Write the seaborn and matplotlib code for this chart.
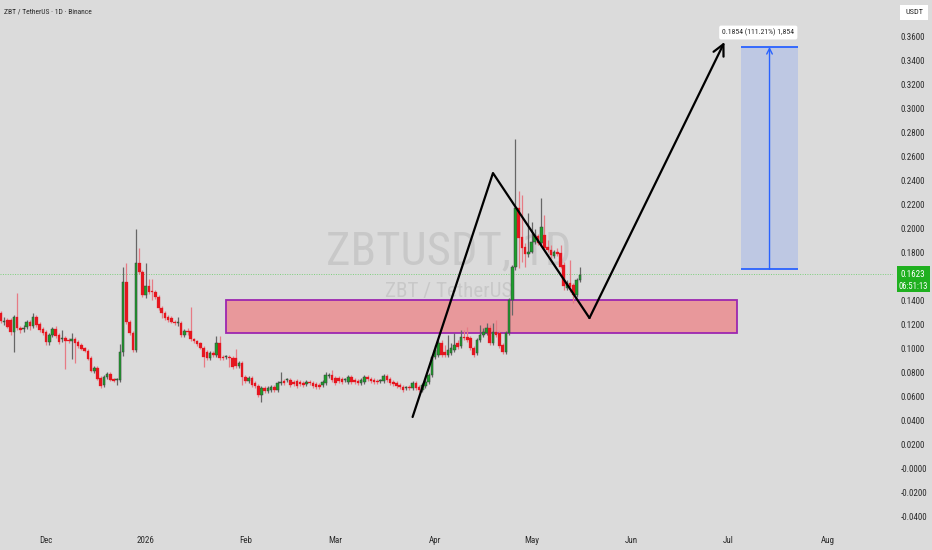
import numpy as np
import pandas as pd
import matplotlib
matplotlib.use("Agg")
import matplotlib.pyplot as plt
import matplotlib.dates as mdates
import matplotlib.transforms as mtransforms
from matplotlib.patches import Rectangle
from matplotlib import font_manager as fm
import seaborn as sns

# ---------------- data ----------------
start_date = "2025-11-17"
opens = [
    0.1300, 0.1225, 0.1241, 0.1241, 0.1141, 0.1266, 0.1175, 0.1166, 0.1183, 0.1225,
    0.1191, 0.1266, 0.1208, 0.1166, 0.1141, 0.1058, 0.1116, 0.1166, 0.1116, 0.1083,
    0.1091, 0.1075, 0.1066, 0.1083, 0.1058, 0.1033, 0.1008, 0.0983, 0.0925, 0.0816,
    0.0841, 0.0758, 0.0700, 0.0766, 0.0791, 0.0750, 0.0741, 0.0741, 0.0975, 0.1558,
    0.1225, 0.1133, 0.0991, 0.1716, 0.1641, 0.1450, 0.1525, 0.1483, 0.1475, 0.1433,
    0.1341, 0.1300, 0.1266, 0.1258, 0.1225, 0.1216, 0.1216, 0.1116, 0.1150, 0.1150,
    0.1083, 0.1066, 0.1050, 0.1008, 0.0975, 0.0925, 0.0966, 0.0950, 0.1050, 0.0933,
    0.0933, 0.0933, 0.0925, 0.0925, 0.0858, 0.0883, 0.0766, 0.0733, 0.0758, 0.0716,
    0.0691, 0.0616, 0.0675, 0.0650, 0.0658, 0.0683, 0.0658, 0.0716, 0.0733, 0.0741,
    0.0741, 0.0725, 0.0733, 0.0725, 0.0716, 0.0708, 0.0725, 0.0716, 0.0708, 0.0700,
    0.0700, 0.0716, 0.0775, 0.0783, 0.0758, 0.0758, 0.0750, 0.0741, 0.0725, 0.0766,
    0.0741, 0.0733, 0.0716, 0.0725, 0.0766, 0.0750, 0.0741, 0.0733, 0.0733, 0.0733,
    0.0775, 0.0750, 0.0725, 0.0716, 0.0700, 0.0683, 0.0675, 0.0683, 0.0675, 0.0716,
    0.0683, 0.0658, 0.0691, 0.0725, 0.0783, 0.0933, 0.0950, 0.1050, 0.0975, 0.0950,
    0.0966, 0.0991, 0.1050, 0.1025, 0.1100, 0.1100, 0.1091, 0.1008, 0.0966, 0.1075,
    0.1116, 0.1133, 0.1175, 0.1050, 0.1141, 0.1133, 0.1033, 0.0975, 0.1133, 0.1408,
    0.1683, 0.2175, 0.1933, 0.1850, 0.1791, 0.1808, 0.1891, 0.1941, 0.1883, 0.1950,
    0.1850, 0.1825, 0.1775, 0.1808, 0.1800, 0.1700, 0.1508, 0.1550, 0.1533, 0.1450,
    0.1575,
]
closes = [
    0.1233, 0.1233, 0.1183, 0.1141, 0.1266, 0.1175, 0.1158, 0.1175, 0.1225, 0.1191,
    0.1266, 0.1200, 0.1158, 0.1133, 0.1058, 0.1116, 0.1166, 0.1108, 0.1058, 0.1086,
    0.1066, 0.1066, 0.1083, 0.1050, 0.1025, 0.1000, 0.0983, 0.0916, 0.0816, 0.0841,
    0.0750, 0.0691, 0.0766, 0.0791, 0.0741, 0.0733, 0.0745, 0.0975, 0.1558, 0.1225,
    0.1133, 0.0991, 0.1716, 0.1641, 0.1450, 0.1525, 0.1475, 0.1475, 0.1433, 0.1341,
    0.1300, 0.1258, 0.1241, 0.1225, 0.1216, 0.1220, 0.1116, 0.1150, 0.1141, 0.1083,
    0.1066, 0.1041, 0.1008, 0.0933, 0.0925, 0.0966, 0.0950, 0.1050, 0.0925, 0.0925,
    0.0937, 0.0925, 0.0850, 0.0858, 0.0883, 0.0766, 0.0733, 0.0758, 0.0700, 0.0691,
    0.0616, 0.0675, 0.0650, 0.0675, 0.0683, 0.0658, 0.0716, 0.0725, 0.0716, 0.0745,
    0.0700, 0.0708, 0.0691, 0.0708, 0.0700, 0.0725, 0.0716, 0.0691, 0.0683, 0.0683,
    0.0725, 0.0783, 0.0783, 0.0741, 0.0716, 0.0733, 0.0725, 0.0745, 0.0766, 0.0725,
    0.0725, 0.0716, 0.0741, 0.0766, 0.0750, 0.0733, 0.0725, 0.0725, 0.0737, 0.0775,
    0.0741, 0.0716, 0.0708, 0.0691, 0.0683, 0.0658, 0.0679, 0.0675, 0.0716, 0.0675,
    0.0658, 0.0700, 0.0725, 0.0783, 0.0933, 0.0991, 0.1050, 0.0950, 0.0950, 0.0991,
    0.1008, 0.1033, 0.1016, 0.1100, 0.1091, 0.1075, 0.1008, 0.0950, 0.1075, 0.1116,
    0.1141, 0.1175, 0.1050, 0.1141, 0.1116, 0.1025, 0.0975, 0.1133, 0.1408, 0.1683,
    0.2175, 0.1925, 0.1841, 0.1791, 0.1808, 0.1891, 0.1950, 0.1883, 0.2016, 0.1841,
    0.1825, 0.1783, 0.1808, 0.1791, 0.1683, 0.1525, 0.1550, 0.1516, 0.1450, 0.1575,
    0.1617,
]
highs = [
    0.1316, 0.1266, 0.1258, 0.1258, 0.1283, 0.1466, 0.1191, 0.1200, 0.1241, 0.1241,
    0.1300, 0.1283, 0.1225, 0.1183, 0.1158, 0.1133, 0.1183, 0.1191, 0.1133, 0.1158,
    0.1108, 0.1091, 0.1133, 0.1100, 0.1075, 0.1050, 0.1016, 0.1000, 0.0941, 0.0858,
    0.0858, 0.0775, 0.0783, 0.0808, 0.0808, 0.0758, 0.0758, 0.1041, 0.1683, 0.1716,
    0.1241, 0.1150, 0.2000, 0.1841, 0.1658, 0.1716, 0.1583, 0.1583, 0.1491, 0.1450,
    0.1358, 0.1316, 0.1283, 0.1275, 0.1241, 0.1266, 0.1233, 0.1166, 0.1175, 0.1350,
    0.1091, 0.1075, 0.1058, 0.1025, 0.0991, 0.0983, 0.0983, 0.1108, 0.1108, 0.0950,
    0.0950, 0.0950, 0.0941, 0.1000, 0.0900, 0.0900, 0.0783, 0.0775, 0.0775, 0.0733,
    0.0708, 0.0691, 0.0691, 0.0691, 0.0700, 0.0700, 0.0733, 0.0808, 0.0750, 0.0758,
    0.0758, 0.0741, 0.0750, 0.0741, 0.0733, 0.0741, 0.0741, 0.0733, 0.0725, 0.0716,
    0.0741, 0.0808, 0.0800, 0.0825, 0.0775, 0.0775, 0.0766, 0.0758, 0.0783, 0.0783,
    0.0758, 0.0750, 0.0758, 0.0783, 0.0783, 0.0766, 0.0758, 0.0750, 0.0750, 0.0791,
    0.0791, 0.0766, 0.0741, 0.0733, 0.0716, 0.0700, 0.0691, 0.0700, 0.0733, 0.0733,
    0.0700, 0.0716, 0.0741, 0.0800, 0.0950, 0.1033, 0.1075, 0.1075, 0.1033, 0.1116,
    0.1050, 0.1133, 0.1075, 0.1158, 0.1158, 0.1183, 0.1108, 0.1025, 0.1091, 0.1200,
    0.1175, 0.1216, 0.1200, 0.1216, 0.1241, 0.1150, 0.1050, 0.1150, 0.1425, 0.1700,
    0.2750, 0.2316, 0.2283, 0.1883, 0.2133, 0.2058, 0.2000, 0.1958, 0.2258, 0.2116,
    0.1908, 0.1866, 0.1825, 0.1841, 0.1866, 0.1725, 0.1575, 0.1742, 0.1550, 0.1591,
    0.1683,
]
lows = [
    0.1216, 0.1200, 0.1175, 0.1116, 0.0975, 0.1158, 0.1133, 0.1141, 0.1166, 0.1158,
    0.1175, 0.1183, 0.1141, 0.1116, 0.1033, 0.1033, 0.1100, 0.1091, 0.1041, 0.1058,
    0.0833, 0.1050, 0.0916, 0.0883, 0.1008, 0.0991, 0.0975, 0.0908, 0.0808, 0.0800,
    0.0741, 0.0675, 0.0683, 0.0750, 0.0733, 0.0725, 0.0700, 0.0725, 0.0941, 0.1208,
    0.1116, 0.0975, 0.0975, 0.1625, 0.1433, 0.1425, 0.1458, 0.1408, 0.1416, 0.1325,
    0.1258, 0.1241, 0.1225, 0.1216, 0.1200, 0.1191, 0.1100, 0.1100, 0.1116, 0.1066,
    0.1050, 0.1025, 0.1000, 0.0850, 0.0908, 0.0908, 0.0933, 0.0933, 0.0908, 0.0908,
    0.0916, 0.0850, 0.0833, 0.0841, 0.0841, 0.0700, 0.0716, 0.0716, 0.0683, 0.0675,
    0.0600, 0.0558, 0.0633, 0.0633, 0.0641, 0.0641, 0.0641, 0.0700, 0.0700, 0.0725,
    0.0683, 0.0691, 0.0675, 0.0691, 0.0683, 0.0691, 0.0700, 0.0675, 0.0666, 0.0666,
    0.0683, 0.0700, 0.0758, 0.0725, 0.0700, 0.0716, 0.0708, 0.0725, 0.0708, 0.0708,
    0.0708, 0.0700, 0.0700, 0.0708, 0.0733, 0.0716, 0.0708, 0.0708, 0.0716, 0.0716,
    0.0725, 0.0700, 0.0691, 0.0675, 0.0666, 0.0641, 0.0658, 0.0658, 0.0658, 0.0658,
    0.0641, 0.0641, 0.0675, 0.0708, 0.0766, 0.0916, 0.0933, 0.0933, 0.0933, 0.0933,
    0.0950, 0.0975, 0.1000, 0.1008, 0.1075, 0.1058, 0.0991, 0.0933, 0.0950, 0.1058,
    0.1100, 0.1116, 0.1033, 0.1033, 0.1100, 0.1008, 0.0958, 0.0958, 0.1116, 0.1283,
    0.1658, 0.1675, 0.1725, 0.1683, 0.1766, 0.1800, 0.1875, 0.1866, 0.1866, 0.1825,
    0.1808, 0.1758, 0.1758, 0.1775, 0.1675, 0.1491, 0.1491, 0.1475, 0.1383, 0.1433,
    0.1558,
]

zone_dates = ["2026-01-26", "2026-07-04"]
zone_prices = [0.1133, 0.1408]
pattern_dates = ["2026-03-25", "2026-04-19", "2026-05-19"]
pattern_prices = [0.0433, 0.2466, 0.1258]
arrow_date = "2026-06-30"
arrow_price = 0.3558
target_dates = ["2026-07-05", "2026-07-23"]
target_prices = [0.1663, 0.3517]
target_label = "0.1854 (111.21%) 1,854"
last_price = 0.1623
last_price_label = "0.1623"
countdown_label = "06:51:13"
title_text = "ZBT / TetherUS \u00b7 1D \u00b7 Binance"
watermark_main = "ZBTUSDT, 1D"
watermark_sub = "ZBT / TetherUS"
ytick_values = [0.36, 0.34, 0.32, 0.30, 0.28, 0.26, 0.24, 0.22, 0.20, 0.18,
                0.14, 0.12, 0.10, 0.08, 0.06, 0.04, 0.02, 0.0, -0.02, -0.04]
ytick_labels = ["0.3600", "0.3400", "0.3200", "0.3000", "0.2800", "0.2600",
                "0.2400", "0.2200", "0.2000", "0.1800", "0.1400", "0.1200",
                "0.1000", "0.0800", "0.0600", "0.0400", "0.0200", "-0.0000",
                "-0.0200", "-0.0400"]
xtick_dates = ["2025-12-01", "2026-01-01", "2026-02-01", "2026-03-01", "2026-04-01",
               "2026-05-01", "2026-06-01", "2026-07-01", "2026-08-01"]
xtick_labels = ["Dec", "2026", "Feb", "Mar", "Apr", "May", "Jun", "Jul", "Aug"]

# ---------------- style ----------------
BG = "#dbdbdb"
TXT = "#2b2b2b"
UP = "#1c9f2c"
DOWN = "#e5161f"
WICK_UP = "#666666"
WICK_DOWN = "#e77b84"

sns.set_theme(style="white")
names = {f.name for f in fm.fontManager.ttflist}
FONT = next((n for n in ["Liberation Sans Narrow", "Roboto Condensed", "Roboto",
                         "Liberation Sans"] if n in names), "DejaVu Sans")
plt.rcParams["font.family"] = [FONT, "DejaVu Sans"]

W, H = 932, 550
fig = plt.figure(figsize=(W / 100, H / 100), dpi=100, facecolor=BG)
ax = fig.add_axes([0, 22 / H, 893 / W, 528 / H])
ax.set_facecolor(BG)
for s in ax.spines.values():
    s.set_visible(False)

df = pd.DataFrame({
    "date": pd.date_range(start_date, periods=len(closes), freq="D"),
    "open": opens, "high": highs, "low": lows, "close": closes,
})
df["x"] = mdates.date2num(df["date"])
df["up"] = df["close"] >= df["open"]
x0 = df["x"].iloc[0]

# watermark
ax.text(0.503, 0.523, watermark_main, transform=ax.transAxes, ha="center",
        va="center", color="#c8c8c8", fontsize=40, zorder=0.5)
ax.text(0.503, 0.447, watermark_sub, transform=ax.transAxes, ha="center",
        va="center", color="#c8c8c8", fontsize=15, zorder=0.5)

# demand zone
zx = mdates.date2num(pd.to_datetime(zone_dates))
ax.add_patch(Rectangle((zx[0], zone_prices[0]), zx[1] - zx[0],
                       zone_prices[1] - zone_prices[0], facecolor="#e8989b",
                       edgecolor="#9c27b0", lw=1.3, zorder=1))

# last price line
ax.axhline(last_price, color="#7ccf7c", lw=0.7, ls=(0, (1, 1.5)), zorder=1.5)

# candles
upd = df[df["up"]]
dnd = df[~df["up"]]
ax.vlines(upd["x"], upd["low"], upd["high"], colors=WICK_UP, lw=0.9, zorder=2)
ax.vlines(dnd["x"], dnd["low"], dnd["high"], colors=WICK_DOWN, lw=0.9, zorder=2)
body_lo = np.minimum(df["open"], df["close"])
body_h = np.maximum(np.abs(df["close"] - df["open"]), 0.0009)
ax.bar(upd["x"], body_h[df["up"]], bottom=body_lo[df["up"]], width=0.8,
       color=UP, edgecolor="#3c3c3c", lw=0.35, zorder=3)
ax.bar(dnd["x"], body_h[~df["up"]], bottom=body_lo[~df["up"]], width=0.8,
       color=DOWN, edgecolor=DOWN, lw=0.2, zorder=3)

# pattern path
pat = pd.DataFrame({"x": mdates.date2num(pd.to_datetime(pattern_dates)),
                    "price": pattern_prices})
sns.lineplot(data=pat, x="x", y="price", sort=False, estimator=None,
             color="black", lw=1.6, ax=ax, zorder=5)
ax_end = mdates.date2num(pd.Timestamp(arrow_date))
ax.annotate("", xy=(ax_end, arrow_price), xytext=(pat["x"].iloc[-1], pat["price"].iloc[-1]),
            arrowprops=dict(arrowstyle="->", color="black", lw=1.6,
                            mutation_scale=20, shrinkA=0, shrinkB=0), zorder=5)

# target box
tx = mdates.date2num(pd.to_datetime(target_dates))
ax.add_patch(Rectangle((tx[0], target_prices[0]), tx[1] - tx[0],
                       target_prices[1] - target_prices[0], facecolor="#bec8e3",
                       edgecolor="none", zorder=2))
ax.hlines(target_prices, tx[0], tx[1], colors="#2962ff", lw=1.3, zorder=3)
tmid = (tx[0] + tx[1]) / 2
ax.annotate("", xy=(tmid, target_prices[1]), xytext=(tmid, target_prices[0]),
            arrowprops=dict(arrowstyle="->", color="#2962ff", lw=1.0,
                            mutation_scale=10, shrinkA=0, shrinkB=0), zorder=4)
lbl = ax.text(x0 + 235.5, 0.3637, target_label, ha="center", va="center",
              color=TXT, fontsize=6.5, zorder=6,
              bbox=dict(boxstyle="round,pad=0.4,rounding_size=0.25", fc="white", ec="none"))

# axes limits, ticks, labels
ax.set_xlim(x0 - 0.31, x0 + 277.4)
ax.set_ylim(-0.0492, 0.3908)
ax.set_xlabel("")
ax.set_ylabel("")
ax.set_yticks(ytick_values, labels=ytick_labels)
ax.yaxis.tick_right()
ax.set_xticks(mdates.date2num(pd.to_datetime(xtick_dates)), labels=xtick_labels)
ax.tick_params(axis="both", length=0, colors=TXT, labelsize=6.5)
ax.tick_params(axis="y", pad=5.5)
ax.tick_params(axis="x", pad=6)
ax.grid(False)

# title
title = fig.text(4 / W, 1 - 11 / H, title_text, ha="left", va="center",
                 color=TXT, fontsize=6.5)

# price label on the right axis
blend = mtransforms.blended_transform_factory(fig.transFigure, ax.transData)
fig.add_artist(Rectangle((897 / W, last_price - 18 / 1200), 33 / W, 26 / 1200,
                         transform=blend, facecolor="#1fb01f", edgecolor="none",
                         clip_on=False))
fig.text(913 / W, last_price, last_price_label, transform=blend, ha="center",
         va="center", color="white", fontsize=6.5)
fig.text(913 / W, last_price - 12 / 1200, countdown_label, transform=blend,
         ha="center", va="center", color="white", fontsize=6.2)

# USDT box
fig.add_artist(Rectangle((900 / W, 1 - 20 / H), 28 / W, 15 / H, transform=fig.transFigure,
                         facecolor="white", edgecolor="none"))
fig.text(914 / W, 1 - 12.5 / H, "USDT", ha="center", va="center", color=TXT, fontsize=6)

# fit a few texts to measured widths
renderer = fig.canvas.get_renderer()
def fit(t, width_px):
    w = t.get_window_extent(renderer).width
    if w > 0:
        t.set_fontsize(t.get_fontsize() * width_px / w)

fit(title, 88)
fit(lbl, 72)
for t in ax.texts:
    if t.get_text() == watermark_main:
        fit(t, 245)
    elif t.get_text() == watermark_sub:
        fit(t, 128)

fig.savefig("out.png", dpi=100, facecolor=BG)
